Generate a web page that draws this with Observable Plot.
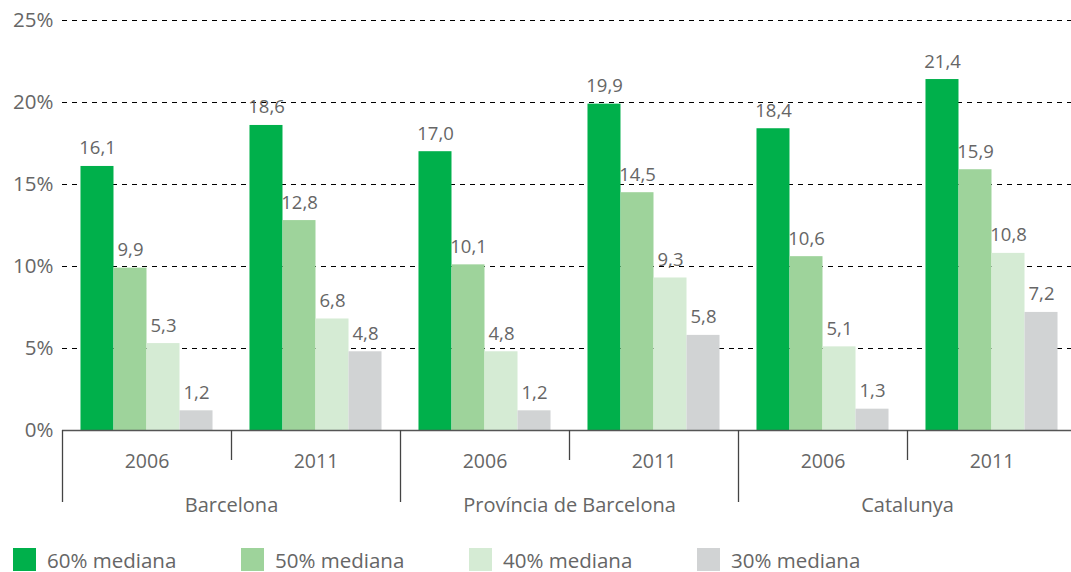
<!DOCTYPE html>
<html>
<head>
<meta charset="utf-8">
<script src="https://cdn.jsdelivr.net/npm/d3@7"></script>
<script src="https://cdn.jsdelivr.net/npm/@observablehq/plot@0.6"></script>
<style>
  html, body { margin: 0; padding: 0; background: #fff; overflow: hidden; }
  body { width: 1071px; height: 572px; font-family: "Open Sans", Roboto, sans-serif; }
  #chart { width: 1071px; overflow: hidden; height: 530px; }
  #chart svg { max-width: none !important; }
  #legend { display: flex; padding-left: 13px; margin-top: 18px; height: 23px; align-items: center; }
  .item { width: 228px; display: flex; align-items: center; flex: none; }
  .sw { width: 23px; height: 23px; margin-right: 11px; flex: none; }
  .lab { font-size: 20.5px; color: #666; line-height: 22px; white-space: nowrap; }
</style>
</head>
<body>
<div id="chart"></div>
<div id="legend"></div>
<script>
const regions = ["Barcelona", "Província de Barcelona", "Catalunya"];
const years = ["2006", "2011"];
const series = ["60% mediana", "50% mediana", "40% mediana", "30% mediana"];
// values per group in order: Barcelona 2006, 2011, Província 2006, 2011, Catalunya 2006, 2011
const values60 = [16.1, 18.6, 17.0, 19.9, 18.4, 21.4];
const values50 = [9.9, 12.8, 10.1, 14.5, 10.6, 15.9];
const values40 = [5.3, 6.8, 4.8, 9.3, 5.1, 10.8];
const values30 = [1.2, 4.8, 1.2, 5.8, 1.3, 7.2];
const colors = ["#00b04b", "#9ed39b", "#d5ebd4", "#d1d3d4"];
const yTicks = [0, 5, 10, 15, 20, 25];

const seriesValues = [values60, values50, values40, values30];
const groups = [];
regions.forEach(r => years.forEach(y => groups.push({key: r + "|" + y, region: r, year: y})));
const keys = groups.map(g => g.key);
const rows = [];
groups.forEach((g, gi) => series.forEach((s, si) => rows.push({key: g.key, series: s, si, value: seriesValues[si][gi]})));

const pad = 0.56;
const xDomain = [-pad, series.length + pad];
const firstYear = groups.filter(g => g.year === years[0]);
const secondYear = groups.filter(g => g.year !== years[0]);
const fmt = v => v.toFixed(1).replace(".", ",");

const W = 1076, H = 530, mT = 20, mB = 100;
const plotH = H - mT - mB;
const font = "'Open Sans', Roboto, sans-serif";

const chart = Plot.plot({
  width: W,
  height: H,
  marginTop: mT,
  marginBottom: mB,
  marginLeft: 62,
  marginRight: 0,
  style: {fontFamily: font, fontSize: "19px", color: "#666", background: "#fff", maxWidth: "none"},
  fx: {domain: keys, padding: 0, axis: null, label: null},
  x: {domain: xDomain, axis: null},
  y: {domain: [0, 25], axis: null},
  color: {domain: series, range: colors},
  marks: [
    Plot.ruleY(yTicks.filter(t => t > 0), {stroke: "#000", strokeWidth: 1, strokeDasharray: "5,5"}),
    Plot.rect(rows, {fx: "key", x1: d => d.si, x2: d => d.si + 1, y1: 0, y2: "value", fill: "series"}),
    Plot.text(rows, {fx: "key", x: d => d.si + 0.5, y: "value", text: d => fmt(d.value), lineAnchor: "bottom", dy: -12, fill: "#666", fontSize: 18.5}),
    Plot.ruleY([0], {stroke: "#555", strokeWidth: 1.5}),
    Plot.ruleX(secondYear, {fx: "key", x: xDomain[0], insetTop: plotH, insetBottom: -30, stroke: "#444", strokeWidth: 1.3}),
    Plot.ruleX(firstYear, {fx: "key", x: xDomain[0], insetTop: plotH, insetBottom: -72, stroke: "#444", strokeWidth: 1.3}),
    Plot.text(groups, {fx: "key", text: "year", frameAnchor: "bottom", lineAnchor: "middle", dy: 31, fill: "#666", fontSize: 19.5}),
    Plot.text(firstYear, {fx: "key", text: "region", frameAnchor: "bottom-right", textAnchor: "middle", lineAnchor: "middle", dy: 75, fill: "#666", fontSize: 20}),
    Plot.axisY(yTicks, {tickSize: 0, tickPadding: 9, tickFormat: d => d + "%", fill: "#666", fontSize: 20.5, label: null})
  ]
});
chart.style.maxWidth = "none";
document.getElementById("chart").appendChild(chart);

const legend = document.getElementById("legend");
series.forEach((s, i) => {
  const it = document.createElement("div");
  it.className = "item";
  const sw = document.createElement("div");
  sw.className = "sw";
  sw.style.background = colors[i];
  const lab = document.createElement("span");
  lab.className = "lab";
  lab.textContent = s;
  it.appendChild(sw);
  it.appendChild(lab);
  legend.appendChild(it);
});
</script>
</body>
</html>
